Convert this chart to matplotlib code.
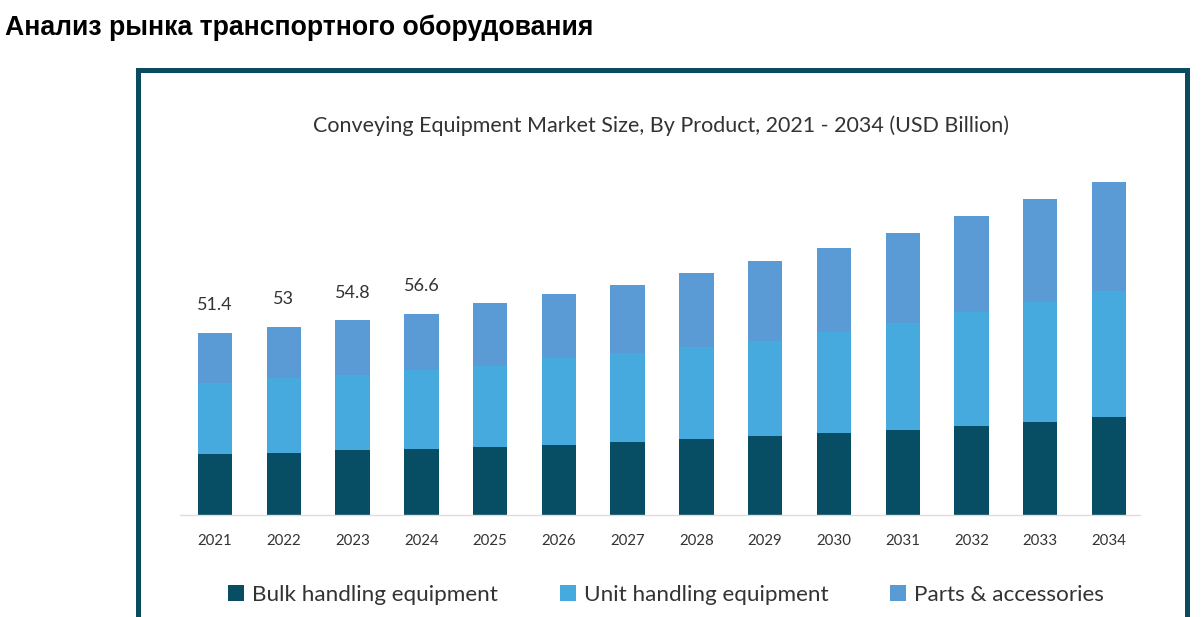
import matplotlib
matplotlib.use('Agg')
import matplotlib.pyplot as plt
from matplotlib.patches import Rectangle, Patch
import numpy as np

# данные (USD Billion)
years = ['2021', '2022', '2023', '2024', '2025', '2026', '2027',
         '2028', '2029', '2030', '2031', '2032', '2033', '2034']
bulk = [17.1, 17.5, 18.2, 18.6, 19.1, 19.7, 20.6,
        21.3, 22.3, 23.1, 23.9, 25.1, 26.3, 27.6]
unit = [20.0, 21.0, 21.2, 22.2, 22.9, 24.4, 24.9,
        26.1, 26.7, 28.5, 30.3, 32.0, 33.8, 35.5]
parts = [14.3, 14.5, 15.4, 15.8, 17.6, 18.2, 19.3,
         20.7, 22.5, 23.5, 25.3, 27.1, 28.9, 30.8]
series_names = ['Bulk handling equipment', 'Unit handling equipment', 'Parts & accessories']
labeled_years = 4  # подписи только у первых четырёх столбцов

COLORS = ['#074d63', '#46aadf', '#5b9bd5']
TEXT = '#333333'
FRAME = '#0b4b5e'

W, H = 1203, 617
fig = plt.figure(figsize=(W / 100, H / 100), dpi=100, facecolor='white')

# заголовок страницы
fig.text(5 / W, 1 - 28 / H, 'Анализ рынка транспортного оборудования',
         family='Liberation Sans', fontweight='bold', fontsize=19.2,
         ha='left', va='center', color='black')

# рамка вокруг графика (низ уходит за край)
frame = Rectangle((137.5 / W, -20 / H), (1187 - 137.5) / W, (617 - 69.5 + 20) / H,
                  transform=fig.transFigure, fill=False, edgecolor=FRAME,
                  linewidth=3.6, clip_on=False)
fig.patches.append(frame)

# ось с барами
ax = fig.add_axes([180 / W, (617 - 515) / H, 960 / W, 360 / H])
x = np.arange(len(years))
bottom = np.zeros(len(years))
for vals, color in zip([bulk, unit, parts], COLORS):
    ax.bar(x, vals, width=0.5, bottom=bottom, color=color, zorder=2)
    bottom = bottom + np.array(vals)

totals = bottom
for i in range(labeled_years):
    ax.annotate(f'{round(totals[i], 1):g}', (x[i], totals[i]),
                xytext=(0, 20), textcoords='offset points',
                ha='center', va='center', fontsize=13, color=TEXT,
                family='Lato')

ax.set_xlim(-0.51, len(years) - 1 + 0.45)
ax.set_ylim(0, 360 / 3.55)
for side in ['top', 'right', 'left']:
    ax.spines[side].set_visible(False)
ax.spines['bottom'].set_color('#dddddd')
ax.spines['bottom'].set_linewidth(1)
ax.set_yticks([])
ax.set_xticks(x)
ax.set_xticklabels(years, family='Lato', fontsize=10.8, color=TEXT)
ax.tick_params(axis='x', length=0, pad=14)

# название графика
fig.text(661 / W, 1 - 126 / H,
         'Conveying Equipment Market Size, By Product, 2021 - 2034 (USD Billion)',
         family='Lato', fontsize=15.5, color=TEXT, ha='center', va='center')

# легенда
handles = [Patch(facecolor=c, edgecolor='none') for c in COLORS]
leg = fig.legend(handles, series_names, loc='center', ncol=3,
                 bbox_to_anchor=(666 / W, 1 - 595 / H), frameon=False,
                 prop={'family': 'Lato', 'size': 16.2},
                 handlelength=0.72, handleheight=0.72, handletextpad=0.35,
                 columnspacing=2.75)
for t in leg.get_texts():
    t.set_color(TEXT)

fig.savefig('out.png', dpi=100, facecolor='white')
